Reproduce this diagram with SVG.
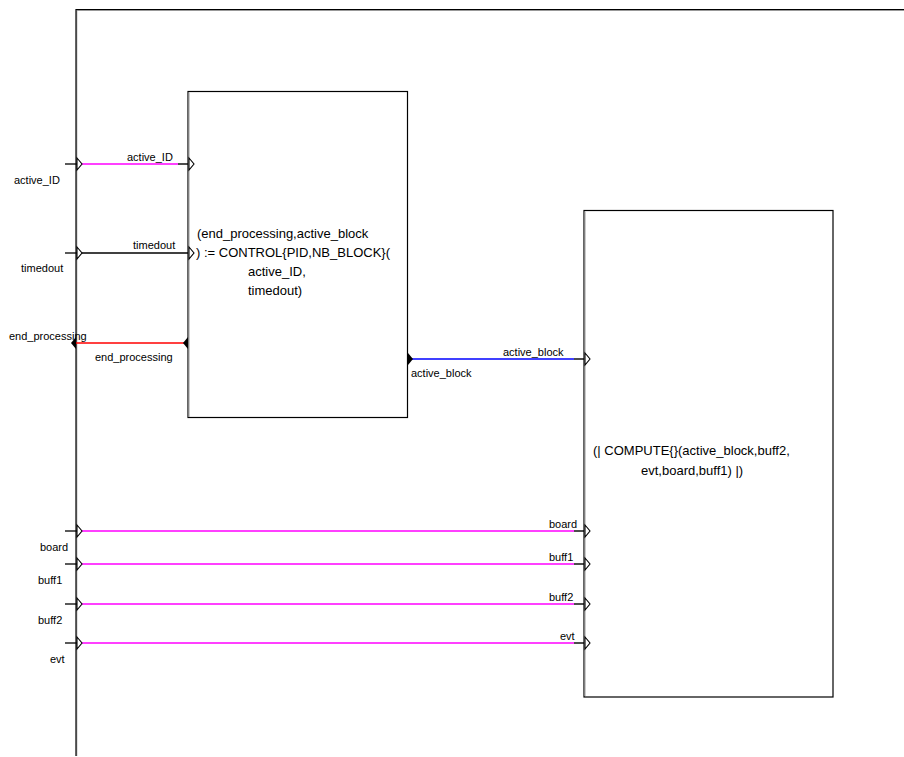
<svg xmlns="http://www.w3.org/2000/svg" width="904" height="757" viewBox="0 0 904 757">
<style>
.frame{fill:none;stroke:#000;stroke-width:1.2}
.shadow{fill:none;stroke:#999;stroke-width:1}
.box{fill:#fff;stroke:#000;stroke-width:1.2}
.lbl{font-family:"Liberation Sans",Arial,sans-serif;font-size:11px;fill:#000}
.big{font-family:"Liberation Sans",Arial,sans-serif;font-size:13px;fill:#000}
.stub{stroke:#000;stroke-width:1.3;fill:none}
.open{fill:#fff;stroke:#000;stroke-width:1.1}
.filled{fill:#000;stroke:none}
.mag{stroke:#ff00ff;stroke-width:1.6;fill:none}
.blk{stroke:#000;stroke-width:1.4;fill:none}
.red{stroke:#ff0000;stroke-width:1.5;fill:none}
.blue{stroke:#0000ff;stroke-width:1.5;fill:none}
</style>
<rect width="904" height="757" fill="#fff"/>
<g id="frame">
<line class="shadow" x1="77" y1="10.5" x2="904" y2="10.5"/>
<line class="shadow" x1="76.8" y1="10" x2="76.8" y2="756"/>
<polyline class="frame" points="904,9.5 76,9.5 76,756"/>
<text class="lbl" x="14" y="184">active_ID</text>
<text class="lbl" x="21" y="272">timedout</text>
<text class="lbl" x="9" y="340">end_processing</text>
<text class="lbl" x="40" y="551">board</text>
<text class="lbl" x="38" y="584">buff1</text>
<text class="lbl" x="38" y="624">buff2</text>
<text class="lbl" x="50" y="663">evt</text>
</g>
<g id="CONTROL">
<rect class="box" x="188" y="91.5" width="219.5" height="326"/>
<line class="shadow" x1="189" y1="92.5" x2="189" y2="417"/>
<text class="big" x="197" y="238">(end_processing,active_block</text>
<text class="big" x="196" y="257">) := CONTROL{PID,NB_BLOCK}(</text>
<text class="big" x="248" y="276">active_ID,</text>
<text class="big" x="248" y="295">timedout)</text>
</g>
<g id="COMPUTE">
<rect class="box" x="584" y="210.5" width="249" height="486.5"/>
<line class="shadow" x1="585" y1="211.5" x2="585" y2="696"/>
<text class="big" x="593" y="455">(| COMPUTE{}(active_block,buff2,</text>
<text class="big" x="641" y="475">evt,board,buff1) |)</text>
</g>
<g id="connectors">
<!-- active_ID -->
<line class="stub" x1="65" y1="164" x2="77" y2="164"/>
<line class="mag" x1="82" y1="164" x2="178" y2="164"/>
<line class="blk" x1="178" y1="164" x2="188" y2="164"/>
<polygon class="open" points="77,158 82,164 77,170"/>
<polygon class="open" points="189,158 194,164 189,170"/>
<text class="lbl" x="127" y="161">active_ID</text>
<!-- timedout -->
<line class="stub" x1="65" y1="253" x2="77" y2="253"/>
<line class="blk" x1="82" y1="253" x2="188" y2="253"/>
<polygon class="open" points="77,247 82,253 77,259"/>
<polygon class="open" points="189,247 194,253 189,259"/>
<text class="lbl" x="133" y="249">timedout</text>
<!-- end_processing -->
<line class="red" x1="76" y1="343" x2="188" y2="343"/>
<polygon class="filled" points="76,337 71,343 76,349"/>
<polygon class="filled" points="188,337 183,343 188,349"/>
<text class="lbl" x="95" y="361">end_processing</text>
<!-- active_block -->
<line class="blue" x1="408" y1="359" x2="574" y2="359"/>
<line class="blk" x1="574" y1="359" x2="584" y2="359"/>
<polygon class="filled" points="408,353 413,359 408,365"/>
<polygon class="open" points="585,353 590,359 585,365"/>
<text class="lbl" x="503" y="356">active_block</text>
<text class="lbl" x="411" y="377">active_block</text>
<!-- board -->
<line class="stub" x1="65" y1="531" x2="77" y2="531"/>
<line class="mag" x1="82" y1="531" x2="574" y2="531"/>
<line class="blk" x1="574" y1="531" x2="584" y2="531"/>
<polygon class="open" points="77,525 82,531 77,537"/>
<polygon class="open" points="585,525 590,531 585,537"/>
<text class="lbl" x="549" y="528">board</text>
<!-- buff1 -->
<line class="stub" x1="65" y1="564" x2="77" y2="564"/>
<line class="mag" x1="82" y1="564" x2="574" y2="564"/>
<line class="blk" x1="574" y1="564" x2="584" y2="564"/>
<polygon class="open" points="77,558 82,564 77,570"/>
<polygon class="open" points="585,558 590,564 585,570"/>
<text class="lbl" x="549" y="561">buff1</text>
<!-- buff2 -->
<line class="stub" x1="65" y1="604" x2="77" y2="604"/>
<line class="mag" x1="82" y1="604" x2="574" y2="604"/>
<line class="blk" x1="574" y1="604" x2="584" y2="604"/>
<polygon class="open" points="77,598 82,604 77,610"/>
<polygon class="open" points="585,598 590,604 585,610"/>
<text class="lbl" x="549" y="601">buff2</text>
<!-- evt -->
<line class="stub" x1="65" y1="643" x2="77" y2="643"/>
<line class="mag" x1="82" y1="643" x2="574" y2="643"/>
<line class="blk" x1="574" y1="643" x2="584" y2="643"/>
<polygon class="open" points="77,637 82,643 77,649"/>
<polygon class="open" points="585,637 590,643 585,649"/>
<text class="lbl" x="560" y="640">evt</text>
</g>
</svg>
